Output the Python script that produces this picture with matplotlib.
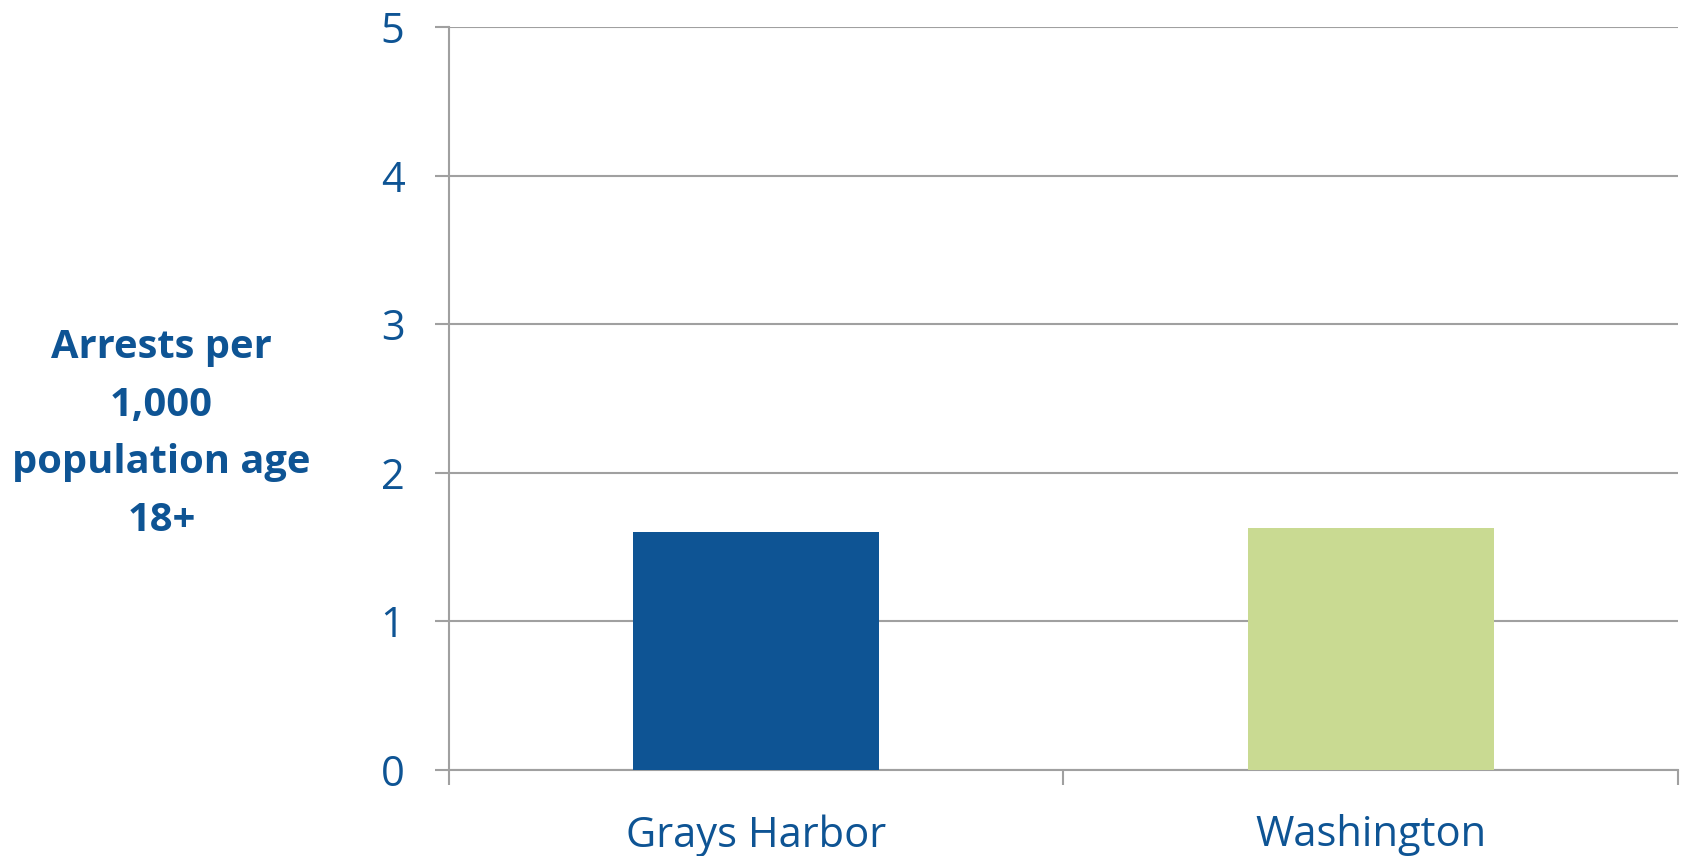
import numpy as np
import matplotlib.pyplot as plt

categories = ["Grays Harbor", "Washington"]
values = [1.60, 1.63]
bar_colors = ["#0E5494", "#C9DA92"]
yticks = [0, 1, 2, 3, 4, 5]

text_color = "#0E5494"
grid_color = "#A0A0A0"
plt.rcParams['font.family'] = ['Open Sans', 'DejaVu Sans']

fig = plt.figure(figsize=(16.83, 8.56), dpi=100)
ax = fig.add_axes([0.2668, 0.1005, 0.7302, 0.868])

x = np.arange(len(categories))
ax.bar(x, values, width=0.4, color=bar_colors, zorder=3)

ax.set_xlim(-0.5, len(categories) - 0.5)
ax.set_ylim(0, 5)
ax.set_yticks(yticks)
ax.set_xticks(x)
ax.set_xticklabels(categories)
ax.set_xticks([-0.5, 0.5, 1.5], minor=True)

ax.grid(axis='y', color=grid_color, linewidth=1.5, zorder=0)
for side in ['top', 'right']:
    ax.spines[side].set_visible(False)
for side in ['left', 'bottom']:
    ax.spines[side].set_color(grid_color)
    ax.spines[side].set_linewidth(1.5)

ax.tick_params(axis='y', length=10, width=1.5, color=grid_color, pad=22,
               labelsize=30, labelcolor=text_color)
ax.tick_params(axis='x', which='major', length=0, pad=32,
               labelsize=30, labelcolor=text_color)
ax.tick_params(axis='x', which='minor', length=11, width=1.5, color=grid_color)

fig.text(0.096, 0.493, "Arrests per\n1,000\npopulation age\n18+", ha='center', va='center',
         fontsize=28.7, fontweight='bold', color=text_color, linespacing=1.63)

fig.savefig("out.png", dpi=100)
